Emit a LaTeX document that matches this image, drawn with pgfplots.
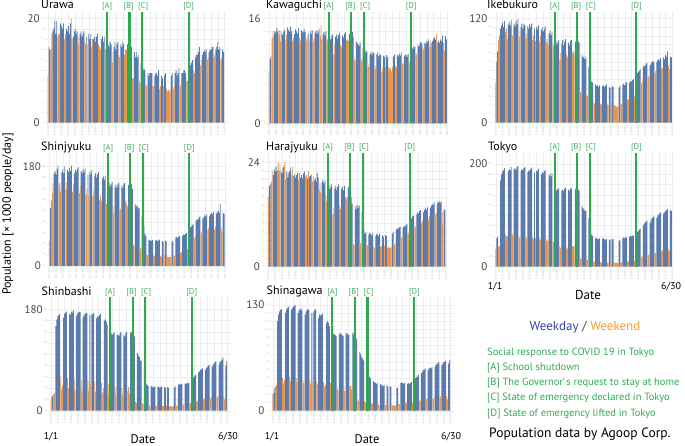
\documentclass[border=0pt]{standalone}
\usepackage{fontspec}
\setmainfont{PT Sans}
\usepackage{pgfplots}
\usepackage{pgfplotstable}
\pgfplotsset{compat=1.18}
\definecolor{wdc}{HTML}{5B7BAC}
\definecolor{wec}{HTML}{E8954E}
\definecolor{evc}{HTML}{2EAA4E}
\definecolor{evt}{HTML}{3FAE62}
\definecolor{gridc}{HTML}{EDEDED}
\definecolor{tickc}{HTML}{AAAAAA}
\definecolor{darkc}{HTML}{444444}
\definecolor{legblue}{HTML}{3A40A6}
\definecolor{legorange}{HTML}{F5A030}
\definecolor{leggreen}{HTML}{2EAB5A}

% weekend / national holiday indicator (day index 0 = 2020-01-01)
\newcommand\wkend{(mod(\coordindex,7)==3)+(mod(\coordindex,7)==4)+(\coordindex==0)+(\coordindex==12)+(\coordindex==41)+(\coordindex==54)+(\coordindex==79)+(\coordindex==119)+(\coordindex==124)+(\coordindex==125)+(\coordindex==126)}

\pgfplotstableread[row sep=\\]{v\\
9\\14.5\\14\\14\\17\\
17.5\\18\\19.5\\17\\19.5\\16.5\\17\\
17\\19\\18.5\\18\\19\\16\\17\\
18\\17.5\\18.5\\17\\19\\20\\16\\
16.5\\17.5\\18\\17\\17.5\\15\\16.5\\
17\\17.5\\16.5\\17\\17.5\\15.5\\15\\
16.5\\15\\17\\16\\17\\14.5\\16\\
16\\16.5\\15.5\\16.5\\17\\15\\14.5\\
14\\16\\16.5\\15.5\\16.5\\14\\15\\
14.5\\15\\14.5\\15.5\\15\\11.5\\13.5\\
14.5\\15.5\\14\\15\\15.5\\13\\12.5\\
15\\14.5\\15.5\\15\\13\\14\\14\\
15\\15.5\\14.5\\15\\14.5\\8.5\\8.5\\
13.5\\12.5\\13.5\\12.5\\13\\8\\7.5\\
11.5\\11\\10\\10.5\\10\\7\\7.5\\
9.5\\9\\9.5\\9.5\\9.5\\7\\7\\
9\\9.5\\9.5\\9\\10\\6.5\\7\\
9\\8.5\\7\\9\\9.5\\6.5\\6\\
6.5\\6\\6.5\\9\\9.5\\6.5\\7\\
9.5\\10\\9\\9.5\\10.5\\7.5\\7\\
9.5\\9.5\\10\\10\\9.5\\8\\8\\
10.5\\11\\11\\11.5\\12\\10\\9.5\\
12.5\\13\\13\\13.5\\14.5\\11\\12\\
13\\13.5\\14\\13.5\\14\\12\\12.5\\
13.5\\14\\14\\14.5\\14.5\\12.5\\13\\
14\\14.5\\15.5\\14\\14.5\\12\\12.5\\
14\\13.5\\
}\urawa

\pgfplotstableread[row sep=\\]{v\\
7.8\\9.8\\10.2\\13\\14\\
13.5\\14\\13.8\\14.5\\14\\13.5\\14.2\\
12.5\\13.8\\13.5\\14\\14.3\\12.8\\13.5\\
14.6\\14.2\\13.9\\14.7\\14\\12.5\\13\\
13.6\\14.3\\14\\13.7\\14.5\\13\\12.6\\
14.2\\13.8\\14\\14.4\\13.9\\12.8\\13.2\\
13.7\\12.5\\14\\13.6\\14.2\\12.4\\13\\
13.8\\14.1\\13.6\\14\\14.4\\13.3\\15\\
12.8\\13.5\\13.9\\13.4\\14\\12.6\\12.9\\
13\\13.4\\12.8\\13.3\\13.6\\10.5\\12\\
13.2\\13.5\\12.9\\13.4\\13.8\\12\\11.6\\
13.4\\13.1\\13.6\\13.9\\12.6\\12.8\\12.5\\
13.6\\14.2\\14.5\\13.9\\13.2\\9.8\\9.6\\
12.5\\12.2\\12\\11.8\\12.3\\9.5\\9.8\\
11.5\\11\\10.8\\11.2\\10.9\\8.6\\9\\
10.6\\10.9\\10.4\\10.8\\10.7\\8.2\\8.8\\
10.5\\10.8\\10.2\\10.6\\10.4\\7.8\\8.4\\
10.3\\10.1\\8.5\\10.4\\10\\8.6\\8.2\\
8.4\\7.9\\8.6\\10.2\\10.5\\8.8\\8.5\\
10.4\\10.2\\10.6\\10.3\\10.8\\9.2\\9\\
10.2\\10.5\\10.4\\10.1\\10.6\\9.4\\9.1\\
11.2\\11.5\\11.3\\11.8\\11.6\\10.4\\10.8\\
12\\11.7\\12.2\\12.4\\12.1\\11.2\\11.5\\
12.3\\12.1\\12.6\\12.4\\12.8\\11.6\\12.6\\
12.2\\12.5\\12.9\\13.1\\12.7\\13.6\\12.2\\
12.6\\12.3\\12.8\\12.5\\13.4\\12.2\\11\\
13.3\\12.8\\
}\kawaguchi

\pgfplotstableread[row sep=\\]{v\\
46\\70\\82\\95\\100\\
108\\112\\115\\110\\117\\104\\108\\
96\\113\\116\\112\\118\\100\\108\\
114\\111\\117\\113\\119\\98\\105\\
110\\114\\108\\113\\112\\97\\102\\
111\\108\\113\\110\\114\\95\\100\\
108\\94\\110\\107\\112\\93\\99\\
107\\110\\105\\108\\111\\92\\96\\
90\\103\\106\\101\\105\\88\\92\\
92\\94\\90\\93\\95\\72\\80\\
91\\95\\89\\93\\96\\78\\76\\
92\\89\\94\\95\\80\\82\\78\\
93\\96\\91\\94\\92\\36\\34\\
78\\75\\77\\73\\76\\32\\30\\
64\\60\\50\\47\\46\\23\\22\\
44\\42\\43\\41\\43\\22\\21\\
42\\43\\41\\42\\44\\21\\20\\
41\\40\\22\\42\\41\\20\\19\\
19\\18\\19\\40\\42\\21\\22\\
44\\45\\43\\46\\47\\26\\27\\
46\\48\\47\\49\\50\\30\\31\\
55\\57\\58\\60\\62\\45\\48\\
64\\66\\65\\68\\69\\52\\55\\
66\\68\\70\\71\\69\\57\\60\\
70\\72\\73\\71\\74\\62\\63\\
75\\73\\78\\76\\82\\66\\62\\
76\\75\\
}\ikebukuro

\pgfplotstableread[row sep=\\]{v\\
46\\105\\118\\132\\150\\
168\\172\\165\\176\\182\\145\\150\\
135\\170\\175\\168\\180\\140\\152\\
174\\170\\178\\172\\182\\135\\148\\
168\\174\\170\\176\\179\\132\\145\\
172\\168\\175\\170\\178\\130\\140\\
165\\128\\170\\166\\174\\126\\136\\
164\\168\\160\\166\\170\\120\\128\\
118\\158\\162\\156\\164\\112\\120\\
146\\150\\144\\148\\152\\95\\110\\
144\\149\\141\\147\\151\\102\\104\\
146\\142\\148\\150\\118\\112\\108\\
147\\150\\144\\149\\140\\38\\36\\
112\\108\\110\\104\\106\\33\\30\\
90\\84\\72\\58\\54\\20\\19\\
48\\46\\47\\45\\47\\19\\18\\
46\\47\\45\\46\\48\\18\\17\\
45\\44\\19\\46\\45\\17\\16\\
17\\16\\17\\44\\46\\18\\19\\
52\\53\\51\\54\\55\\24\\25\\
55\\57\\56\\58\\60\\30\\32\\
66\\70\\72\\74\\76\\50\\54\\
82\\85\\84\\88\\90\\58\\62\\
86\\89\\92\\90\\94\\64\\70\\
90\\94\\96\\93\\98\\66\\72\\
95\\97\\100\\96\\112\\70\\62\\
96\\94\\
}\shinjyuku

\pgfplotstableread[row sep=\\]{v\\
16\\18.5\\19\\19.5\\22\\
21\\22.5\\21.8\\23\\22\\24\\22\\
23.5\\22\\21.5\\22.8\\23.2\\24\\20\\
21.8\\20.5\\21.6\\22\\22.8\\21\\23\\
20.8\\21.2\\20.4\\21\\21.5\\19.8\\21.6\\
20.5\\21\\20.2\\21.4\\21.8\\20.6\\21\\
20.2\\22\\20.6\\20.8\\21.2\\19.5\\20.8\\
19.8\\20.4\\19.6\\21.6\\20.5\\17.5\\19.2\\
17\\19.5\\20\\19.2\\19.8\\16.5\\15\\
18.5\\18.8\\17.8\\18.4\\19\\12\\13.5\\
18\\18.6\\17.6\\18.3\\18.9\\14\\13.2\\
17.8\\18.4\\17.5\\18.6\\16\\15.5\\16\\
18.2\\18.8\\17.9\\16\\14.5\\5.2\\5\\
13.8\\13.2\\14.2\\13.5\\14\\5.3\\5.6\\
12.5\\12\\8.5\\7.6\\7.9\\5\\4.8\\
7.4\\7.8\\7.5\\7.2\\7.7\\4.6\\4.4\\
7.1\\7.5\\7.3\\7\\7.6\\4.5\\4.7\\
7.2\\6.9\\4.8\\7.3\\7\\4.3\\4.6\\
4.4\\4.2\\4.5\\7.6\\8\\5\\5.4\\
8.5\\8.8\\8.6\\9\\9.2\\6.5\\7\\
9\\9.4\\9.2\\9.6\\9.8\\7.4\\7.8\\
10.5\\11\\11.2\\11.6\\11.8\\9\\9.4\\
12\\12.4\\12.2\\12.8\\13\\10\\10.5\\
12.6\\13\\13.4\\13.1\\13.6\\10.8\\11.6\\
13.5\\14\\14.4\\14.2\\14.8\\12\\12.4\\
14.5\\14.8\\15\\14.6\\15\\12.5\\9.5\\
13.2\\13\\
}\harajyuku

\pgfplotstableread[row sep=\\]{v\\
35\\55\\58\\38\\40\\
168\\180\\185\\188\\192\\62\\58\\
60\\186\\190\\188\\194\\65\\60\\
190\\192\\188\\195\\196\\60\\55\\
186\\190\\188\\192\\194\\58\\55\\
184\\188\\186\\190\\193\\57\\54\\
183\\56\\187\\186\\191\\55\\52\\
180\\184\\182\\186\\189\\54\\50\\
52\\178\\181\\176\\182\\50\\48\\
152\\150\\148\\151\\153\\38\\36\\
148\\150\\147\\152\\154\\37\\35\\
150\\147\\151\\153\\40\\40\\38\\
152\\150\\149\\151\\148\\16\\15\\
118\\115\\112\\108\\110\\14\\13\\
95\\90\\68\\62\\60\\10\\9\\
56\\55\\54\\53\\55\\9\\8\\
54\\55\\53\\52\\54\\8\\8\\
53\\52\\9\\54\\53\\8\\7\\
7\\7\\8\\50\\52\\8\\9\\
56\\57\\55\\58\\57\\10\\11\\
58\\60\\59\\61\\60\\12\\13\\
64\\68\\70\\72\\74\\18\\20\\
80\\84\\86\\88\\90\\22\\25\\
86\\90\\94\\96\\98\\26\\28\\
95\\100\\102\\104\\106\\30\\32\\
104\\106\\108\\110\\112\\34\\30\\
110\\108\\
}\tokyo

\pgfplotstableread[row sep=\\]{v\\
20\\25\\28\\30\\32\\
150\\162\\168\\170\\172\\60\\38\\
45\\165\\172\\174\\176\\58\\40\\
172\\170\\176\\174\\178\\56\\36\\
168\\172\\174\\176\\175\\55\\35\\
166\\170\\172\\174\\173\\54\\35\\
170\\48\\172\\171\\174\\52\\34\\
164\\168\\166\\170\\172\\50\\32\\
40\\160\\162\\158\\152\\48\\30\\
136\\138\\134\\137\\139\\42\\28\\
134\\136\\133\\137\\140\\40\\28\\
135\\132\\138\\140\\35\\42\\30\\
138\\140\\136\\139\\132\\16\\14\\
102\\98\\95\\90\\88\\14\\12\\
78\\72\\48\\46\\44\\10\\9\\
44\\43\\42\\41\\43\\9\\8\\
42\\43\\41\\42\\43\\8\\8\\
42\\41\\9\\42\\41\\8\\7\\
8\\7\\8\\41\\43\\9\\9\\
46\\47\\46\\48\\47\\11\\12\\
48\\49\\47\\50\\49\\13\\14\\
54\\58\\60\\62\\64\\16\\18\\
68\\70\\72\\74\\75\\20\\22\\
72\\76\\78\\80\\82\\22\\24\\
78\\82\\84\\86\\88\\24\\26\\
82\\86\\88\\90\\94\\26\\20\\
80\\88\\
}\shinbashi

\pgfplotstableread[row sep=\\]{v\\
20\\22\\28\\30\\32\\
110\\118\\122\\124\\125\\40\\34\\
38\\120\\124\\126\\128\\42\\36\\
124\\126\\128\\129\\130\\40\\35\\
120\\124\\125\\123\\126\\38\\34\\
118\\122\\124\\125\\124\\37\\33\\
120\\36\\122\\124\\125\\36\\32\\
114\\118\\117\\118\\119\\35\\30\\
32\\108\\110\\108\\104\\34\\30\\
96\\95\\94\\93\\92\\28\\25\\
94\\96\\94\\93\\92\\29\\24\\
96\\95\\94\\93\\30\\30\\26\\
96\\94\\92\\90\\88\\14\\12\\
72\\70\\66\\64\\62\\12\\10\\
58\\52\\44\\42\\40\\9\\8\\
36\\35\\34\\33\\34\\8\\7\\
33\\32\\31\\30\\31\\7\\7\\
31\\30\\8\\29\\30\\7\\6\\
7\\6\\7\\28\\28\\8\\8\\
34\\35\\34\\33\\34\\9\\10\\
33\\34\\33\\34\\35\\10\\11\\
38\\40\\41\\42\\44\\12\\13\\
46\\48\\50\\50\\52\\14\\15\\
50\\52\\53\\52\\54\\15\\16\\
54\\56\\58\\58\\60\\16\\18\\
56\\58\\60\\60\\62\\18\\14\\
58\\62\\
}\shinagawa

\pgfplotsset{
  panel/.style={
    scale only axis, anchor=south west, clip=false,
    ymin=0, xmin=-3, xmax=185,
    axis line style={draw=none}, major tick length=0pt,
    grid=major, major grid style={gridc, line width=0.4pt},
    xtick={0,7,...,182},
    xticklabels={2020-01-01,2020-01-08,2020-01-15,2020-01-22,2020-01-29,2020-02-05,2020-02-12,2020-02-19,2020-02-26,2020-03-04,2020-03-11,2020-03-18,2020-03-25,2020-04-01,2020-04-08,2020-04-15,2020-04-22,2020-04-29,2020-05-06,2020-05-13,2020-05-20,2020-05-27,2020-06-03,2020-06-10,2020-06-17,2020-06-24,2020-07-01},
    xticklabel style={rotate=90, anchor=east, font=\fontsize{2.3}{2.3}\selectfont, text=tickc, inner sep=0.8pt},
    yticklabel style={font=\fontsize{2.2}{2.2}\selectfont, text=tickc, inner sep=0.8pt},
    /pgf/number format/assume math mode=true,
    extra y tick style={grid=none, yticklabel style={font=\fontsize{11}{11}\selectfont, text=darkc, xshift=-4.5pt}},
  },
  overlay/.style={
    scale only axis, anchor=south west, clip=false, hide axis,
    ymin=0, xmin=-3, xmax=185,
  },
  wd/.style={ybar, bar width=0.88, bar shift=0pt, fill=wdc, draw=none},
  we/.style={ybar, bar width=0.88, bar shift=0pt, fill=wec, draw=none},
}

% #1 day, #2 top, #3 label, #4 label xshift
\newcommand\evline[4]{%
  \addplot[draw=evc, line width=2.1pt, forget plot] coordinates {(#1,0) (#1,#2)};
  \node[anchor=base, yshift=3pt, xshift=#4, text=evt, font=\fontsize{8.5}{8.5}\selectfont, inner sep=0pt] at (axis cs:#1,#2) {#3};}

% #1 table, #2 left, #3 zero-line py, #4 width, #5 height, #6 ymax, #7 max tick, #8 step
\newcommand\panel[8]{%
  \begin{axis}[panel, at={(#2pt,-#3pt)}, width=#4pt, height=#5pt, ymax=#6,
      ytick={0,#8,...,#7}, extra y ticks={0,#7}]
    \addplot[wd, restrict expr to domain={\wkend}{-0.5:0.5}] table[x expr=\coordindex, y=v] {#1};
    \addplot[we, restrict expr to domain={\wkend}{0.5:1.5}] table[x expr=\coordindex, y=v] {#1};
  \end{axis}
  \begin{axis}[overlay, at={(#2pt,-#3pt)}, width=#4pt, height=#5pt, ymax=#6]
    \evline{61}{#6}{[A]}{0pt}
    \evline{84}{#6}{[B]}{-1pt}
    \evline{97}{#6}{[C]}{1pt}
    \evline{145}{#6}{[D]}{0pt}
  \end{axis}}

\begin{document}
\begin{tikzpicture}
\path[use as bounding box] (0,0) rectangle (685pt,-446pt);

\panel{\urawa}{45.1}{122.7}{182.4}{111}{21.26}{20}{2}
\panel{\kawaguchi}{266.1}{123.3}{184.2}{111.6}{17.0}{16}{2}
\panel{\ikebukuro}{492.8}{122.7}{182.4}{111}{127.6}{120}{10}
\panel{\shinjyuku}{46.4}{266}{181.6}{113}{204.8}{180}{20}
\panel{\harajyuku}{265.4}{266.7}{183.5}{113.7}{26.1}{24}{2}
\panel{\tokyo}{492.8}{266.7}{182.4}{113.7}{221.4}{200}{20}
\panel{\shinbashi}{48.1}{410.7}{182.5}{113.7}{201.8}{180}{20}
\panel{\shinagawa}{269.8}{410.7}{183.7}{113.7}{139.8}{130}{10}

\begin{scope}[every node/.style={inner sep=0pt, font=\fontsize{12}{12}\selectfont, text=black}]
\node[anchor=base west] at (41pt,-9pt) {Urawa};
\node[anchor=base west] at (266pt,-9pt) {Kawaguchi};
\node[anchor=base west] at (487pt,-9pt) {Ikebukuro};
\node[anchor=base west] at (41pt,-151pt) {Shinjyuku};
\node[anchor=base west] at (266pt,-150.7pt) {Harajyuku};
\node[anchor=base west] at (488pt,-150.5pt) {Tokyo};
\node[anchor=base west] at (41.5pt,-295pt) {Shinbashi};
\node[anchor=base west] at (266.5pt,-294.5pt) {Shinagawa};
\end{scope}

\node[rotate=90, font=\fontsize{12}{12}\selectfont, text=black] at (8pt,-214pt) {Population [× 1000 people/day]};

\begin{scope}[every node/.style={inner sep=0pt}]
\node[font=\fontsize{10}{10}\selectfont] at (495pt,-287pt) {1/1};
\node[font=\fontsize{13}{13}\selectfont] at (588pt,-295pt) {Date};
\node[font=\fontsize{10}{10}\selectfont] at (671pt,-287pt) {6/30};
\node[font=\fontsize{10}{10}\selectfont] at (51pt,-437pt) {1/1};
\node[font=\fontsize{12.5}{12.5}\selectfont] at (143pt,-439pt) {Date};
\node[font=\fontsize{10}{10}\selectfont] at (228pt,-437pt) {6/30};
\node[font=\fontsize{10}{10}\selectfont] at (272pt,-437pt) {1/1};
\node[font=\fontsize{12.5}{12.5}\selectfont] at (367pt,-439pt) {Date};
\node[font=\fontsize{10}{10}\selectfont] at (451pt,-437pt) {6/30};

\node[font=\fontsize{13}{13}\selectfont] at (585pt,-327pt) {\textcolor{legblue}{Weekday} \textcolor{darkc}{/} \textcolor{legorange}{Weekend}};
\begin{scope}[every node/.style={inner sep=0pt, anchor=west, text=leggreen, font=\fontsize{10.5}{11}\selectfont}]
\node at (487pt,-353pt) {Social response to COVID 19 in Tokyo};
\node at (487pt,-368pt) {[A] School shutdown};
\node at (487pt,-383pt) {[B] The Governor’\hspace{1.5pt}s request to stay at home};
\node at (487pt,-398pt) {[C] State of emergency declared in Tokyo};
\node at (487pt,-414pt) {[D] State of emergency lifted in Tokyo};
\end{scope}
\node[anchor=west, font=\fontsize{13.5}{14}\selectfont, text=black] at (489pt,-434pt) {Population data by Agoop Corp.};
\end{scope}
\end{tikzpicture}
\end{document}
